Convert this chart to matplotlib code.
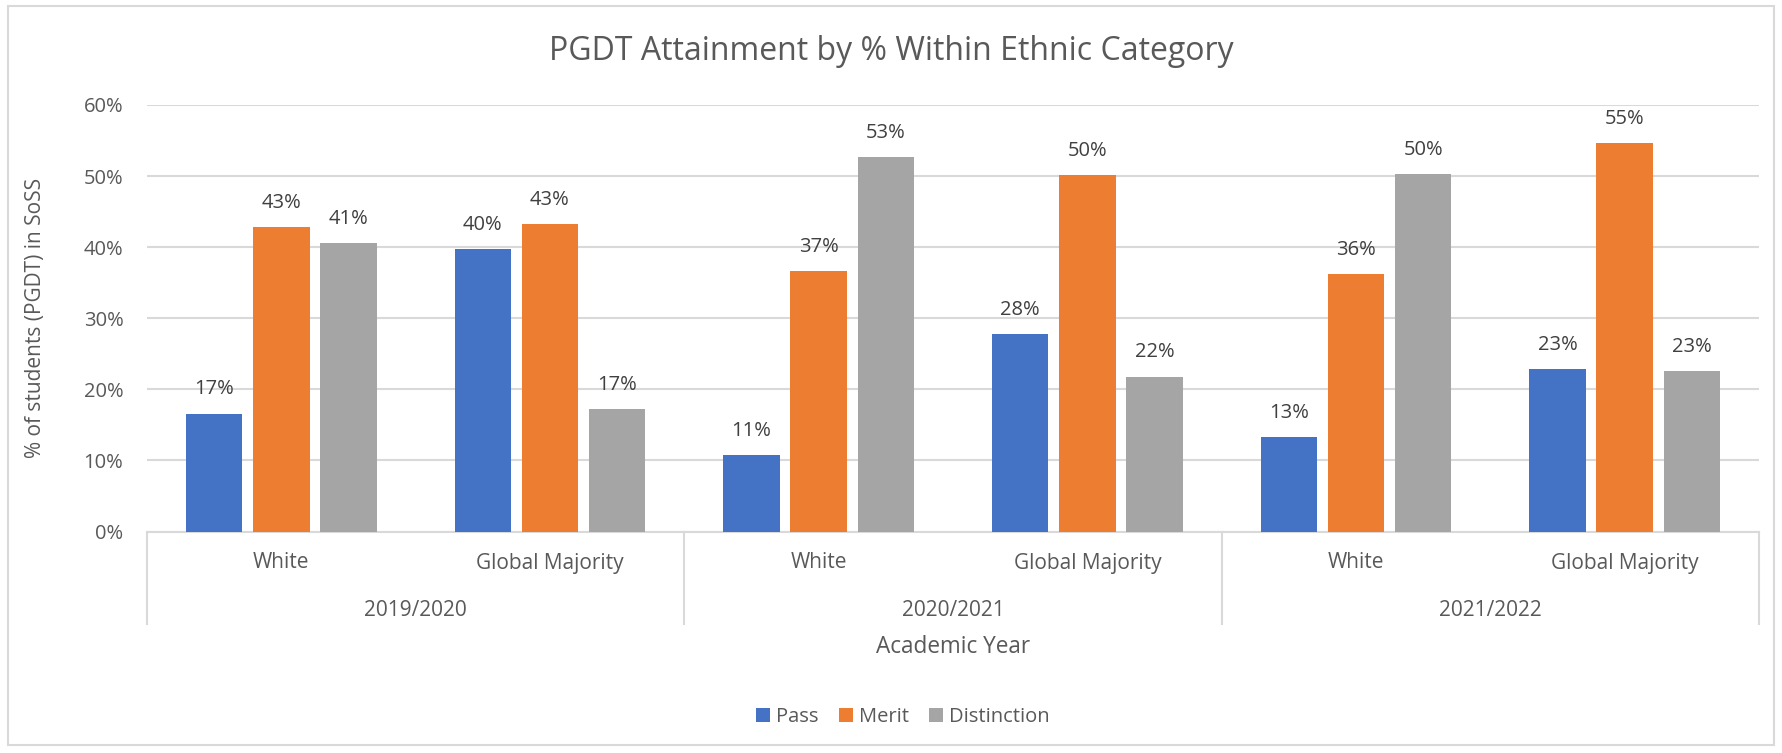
import numpy as np
import matplotlib.pyplot as plt
import matplotlib.transforms as mtransforms
from matplotlib.patches import Rectangle

years = ['2019/2020', '2020/2021', '2021/2022']
groups = ['White', 'Global Majority']
series = ['Pass', 'Merit', 'Distinction']
# one value per (year, group), in order
pass_vals = [0.166, 0.397, 0.108, 0.278, 0.133, 0.228]
merit_vals = [0.428, 0.432, 0.366, 0.501, 0.362, 0.546]
dist_vals = [0.406, 0.172, 0.527, 0.218, 0.503, 0.226]
colors = ['#4472C4', '#ED7D31', '#A5A5A5']

txt = '#595959'
grid_c = '#D9D9D9'
plt.rcParams['font.family'] = ['Open Sans', 'DejaVu Sans']

W, H = 1783, 753
fig = plt.figure(figsize=(W / 100, H / 100), dpi=100)
left, right, top, bottom = 147, 1759, 105, 531.5
ax = fig.add_axes([left / W, 1 - bottom / H, (right - left) / W, (bottom - top) / H])

x = np.arange(len(years) * len(groups))
offsets = [-0.25, 0, 0.25]
for vals, off, c, name in zip([pass_vals, merit_vals, dist_vals], offsets, colors, series):
    bars = ax.bar(x + off, vals, width=0.21, color=c, label=name, zorder=3)
    for b, v in zip(bars, vals):
        ax.text(b.get_x() + b.get_width() / 2, v + 0.02, f'{v:.0%}', ha='center', va='bottom',
                fontsize=14.5, color='#404040')

ax.set_xlim(-0.5, len(x) - 0.5)
ax.set_ylim(0, 0.6)
ax.set_yticks(np.arange(0, 0.61, 0.1))
ax.set_yticklabels([f'{t:.0%}' for t in np.arange(0, 0.61, 0.1)])
ax.tick_params(axis='y', length=0, pad=17, labelsize=14.5, labelcolor=txt)
ax.set_xticks([])
ax.yaxis.grid(True, color=grid_c, lw=1.5, zorder=0)
for s in ['top', 'right', 'left']:
    ax.spines[s].set_visible(False)
ax.spines['bottom'].set_color(grid_c)
ax.spines['bottom'].set_linewidth(1.5)

# category axis with two levels
tr = mtransforms.blended_transform_factory(ax.transData, fig.transFigure)
for i, xi in enumerate(x):
    fig.text(xi, 1 - 563 / H, groups[i % 2], transform=tr, ha='center', va='center',
             fontsize=15, color=txt)
for j, yr in enumerate(years):
    fig.text(2 * j + 0.5, 1 - 610 / H, yr, transform=tr, ha='center', va='center',
             fontsize=15, color=txt)
for xs in np.arange(-0.5, len(x), 2):
    ax.plot([xs, xs], [1 - bottom / H, 1 - 624 / H], transform=tr, color=grid_c, lw=1.5,
            clip_on=False)

fig.text(0.5 * (left + right) / W, 1 - 647 / H, 'Academic Year', ha='center', va='center',
         fontsize=16.3, color=txt)
fig.text(36 / W, 1 - (top + bottom) / 2 / H, '% of students (PGDT) in SoSS', rotation=90,
         ha='center', va='center', fontsize=15, color=txt)
fig.text(0.5, 1 - 51 / H, 'PGDT Attainment by % Within Ethnic Category', ha='center',
         va='center', fontsize=23, color=txt)

fig.legend(loc='center', bbox_to_anchor=(903 / W, 1 - 717 / H), ncol=3, frameon=False,
           handlelength=0.7, handleheight=0.7, handletextpad=0.3, columnspacing=1.0,
           fontsize=14.5, labelcolor=txt)

fig.patches.append(Rectangle((8 / W, 1 - 745 / H), (1774 - 8) / W, (745 - 6) / H,
                             transform=fig.transFigure, fill=False, edgecolor=grid_c, lw=1.5))

fig.savefig('out.png', dpi=100, facecolor='white')
